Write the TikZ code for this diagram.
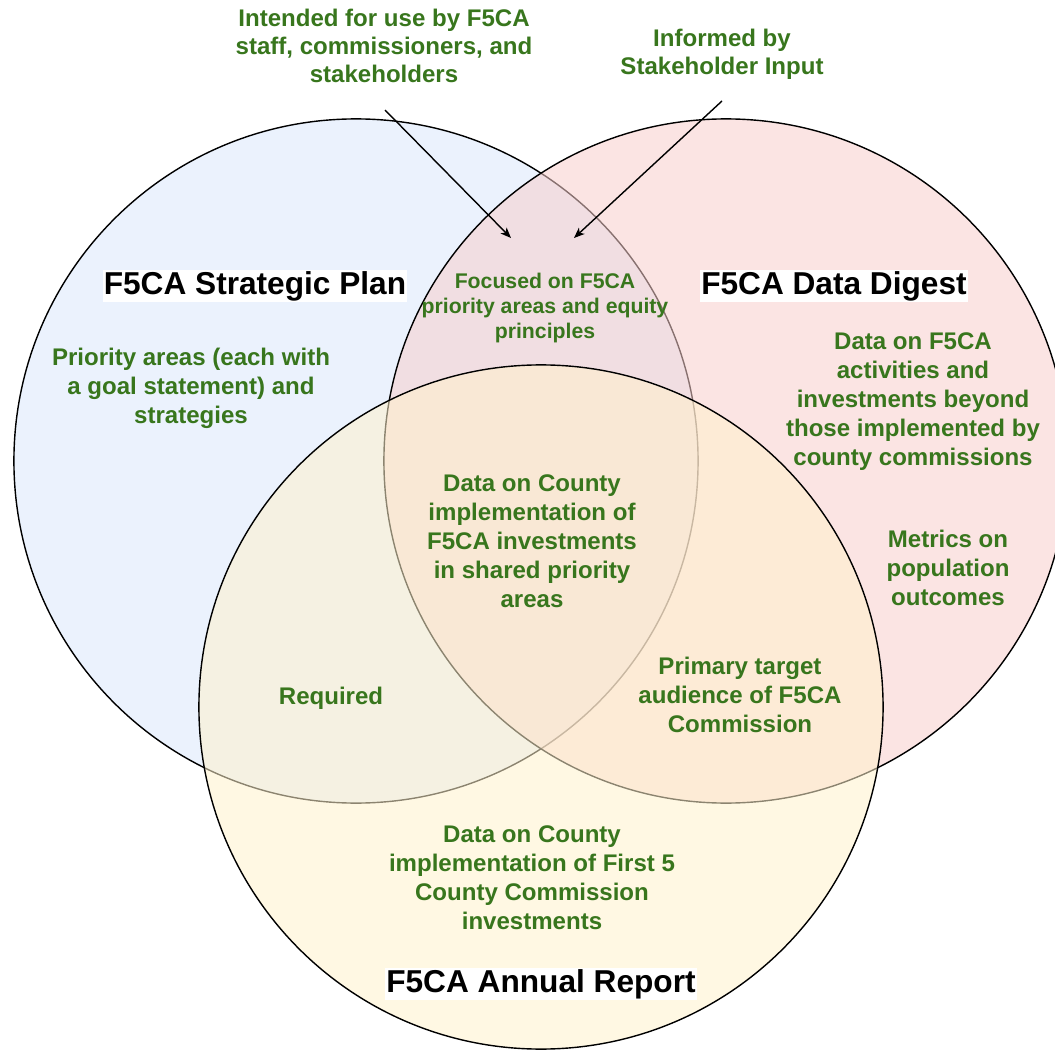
\documentclass[tikz,border=0pt]{standalone}
\usepackage{fontspec}
\setmainfont{Liberation Sans}
\usepackage{tikz}
\usetikzlibrary{arrows.meta,positioning}
\definecolor{vennBlue}{HTML}{DAE8FC}
\definecolor{vennRed}{HTML}{F8CECC}
\definecolor{vennYellow}{HTML}{FFF2CC}
\definecolor{txtGreen}{HTML}{38761D}
\tikzstyle{vennNode} = [circle, minimum size=17.1cm, draw=black, line width=1pt, fill opacity=0.55]
\tikzstyle{vennNodeB} = [vennNode, fill=vennBlue]
\tikzstyle{vennNodeR} = [vennNode, fill=vennRed]
\tikzstyle{vennNodeY} = [vennNode, fill=vennYellow]
\tikzstyle{txtNode} = [align=center, text=txtGreen, font=\bfseries\fontsize{17.1}{20.6}\selectfont]
\tikzstyle{topNode} = [txtNode, font=\bfseries\fontsize{17.1}{19.9}\selectfont]
\tikzstyle{smallNode} = [txtNode, font=\bfseries\fontsize{15.1}{18.1}\selectfont]
\tikzstyle{titleNode} = [fill=white, inner sep=0.6pt, text=black, font=\bfseries\fontsize{22.5}{27}\selectfont]
\tikzstyle{arrow} = [line width=1pt,-{Stealth[length=7.5pt,width=6pt,inset=2pt]},draw=black]

\begin{document}
\begin{tikzpicture}[x=0.025cm, y=-0.025cm]
    \useasboundingbox (0,0) rectangle (1055,1051);
    \clip (0,0) rectangle (1055,1051);
    \node (plan) [vennNodeB] at (356,461) {};
    \node (digest) [vennNodeR] at (726,461) {};
    \node (report) [vennNodeY] at (541,707) {};

    \node (planTitle) [titleNode] at (255,286) {F5CA Strategic Plan};
    \node (digestTitle) [titleNode] at (834,286) {F5CA Data Digest};
    \node (reportTitle) [titleNode] at (541,984) {F5CA Annual Report};

    \node (useLbl) [topNode] at (384,46) {Intended for use by F5CA\\staff, commissioners, and\\stakeholders};
    \node (inputLbl) [topNode] at (722,54) {Informed by\\Stakeholder Input};
    \node (focus) [smallNode] at (545,308) {Focused on F5CA\\priority areas and equity\\principles};
    \node (areas) [txtNode] at (191,388) {Priority areas (each with\\a goal statement) and\\strategies};
    \node (beyond) [txtNode] at (913,402) {Data on F5CA\\activities and\\investments beyond\\those implemented by\\county commissions};
    \node (metrics) [txtNode] at (948,568) {Metrics on\\population\\outcomes};
    \node (shared) [txtNode] at (532,541) {Data on County\\implementation of\\F5CA investments\\in shared priority\\areas};
    \node (required) [txtNode] at (331,698) {Required};
    \node (audience) [txtNode] at (740,695) {Primary target\\audience of F5CA\\Commission};
    \node (county) [txtNode] at (532,878) {Data on County\\implementation of First 5\\County Commission\\investments};

    \coordinate (useTail) at (385,110);
    \coordinate (useTip) at (511,238);
    \coordinate (inputTail) at (722,101);
    \coordinate (inputTip) at (574,238);
    \draw [arrow] (useTail) -- (useTip);
    \draw [arrow] (inputTail) -- (inputTip);
\end{tikzpicture}
\end{document}
